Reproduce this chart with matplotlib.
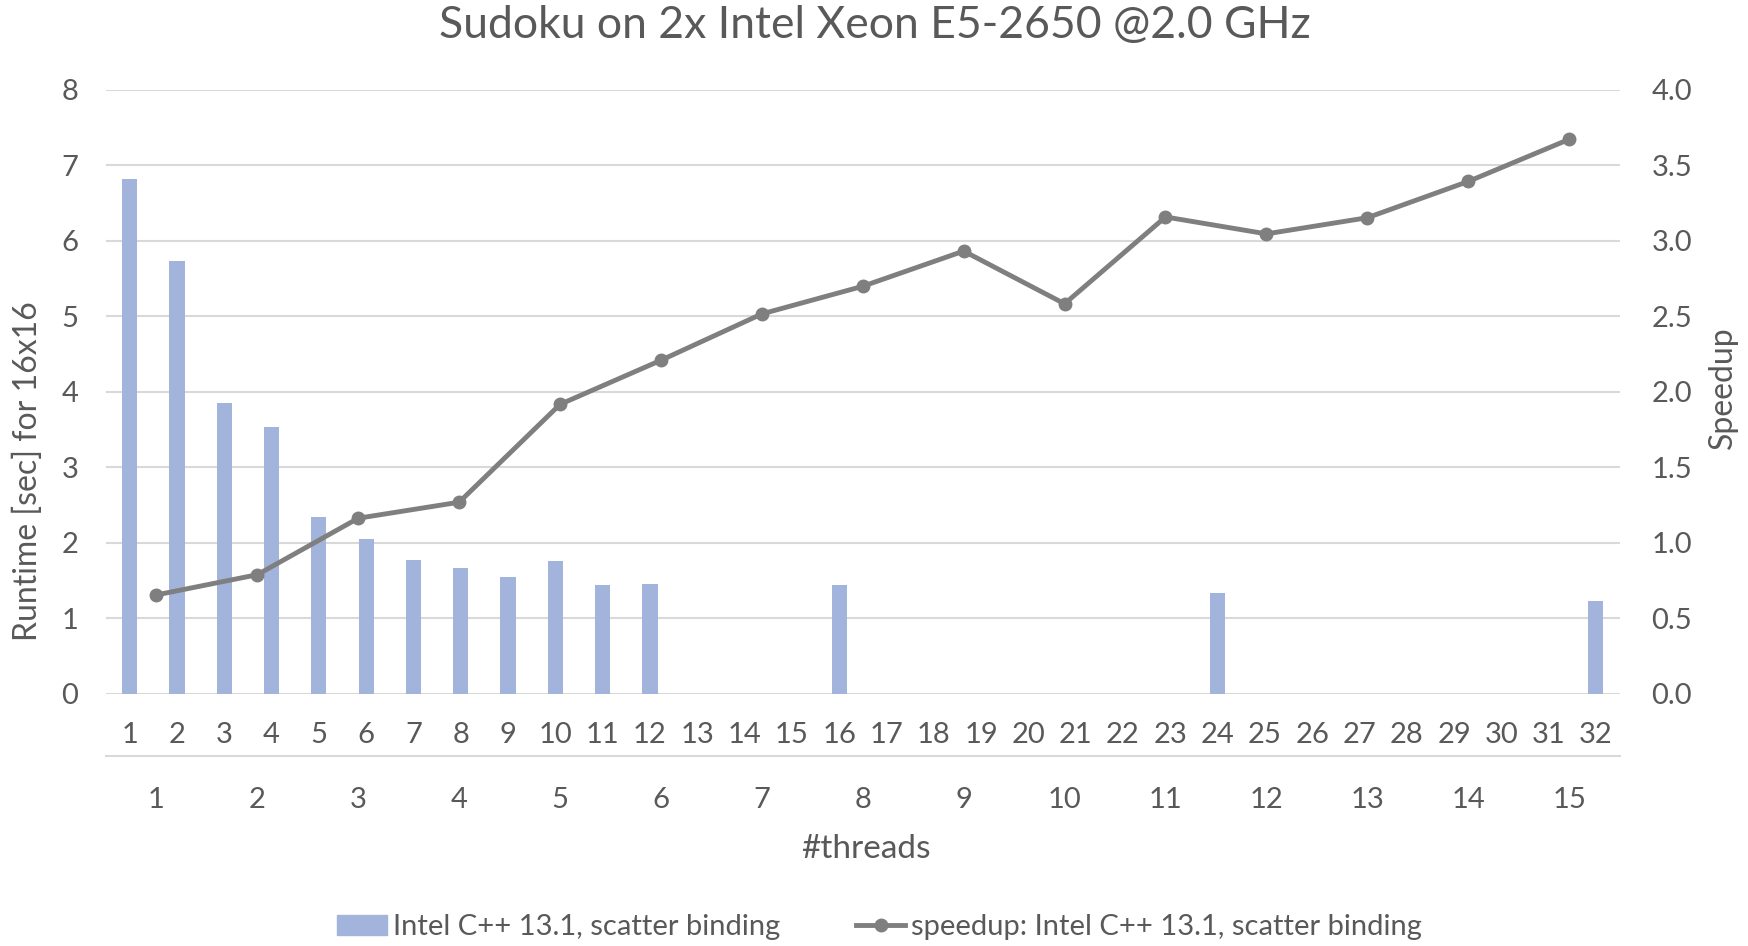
import numpy as np
from matplotlib import pyplot as plt
from matplotlib.lines import Line2D
from matplotlib.patches import Patch

plt.rcParams['font.family'] = ['Lato', 'DejaVu Sans']

# runtime per thread count (primary axes, 32 categories)
threads = list(range(1, 33))
runtime = [6.82, 5.73, 3.85, 3.53, 2.34, 2.05, 1.78, 1.675, 1.55, 1.76, 1.44, 1.46,
           0, 0, 0, 1.44, 0, 0, 0, 0, 0, 0, 0, 1.335, 0, 0, 0, 0, 0, 0, 0, 1.23]

# speedup (secondary axes, 15 categories)
steps = list(range(1, 16))
speedup = [0.656, 0.79, 1.164, 1.27, 1.918, 2.21, 2.517, 2.70, 2.933, 2.584,
           3.159, 3.047, 3.154, 3.394, 3.673]

txt = '#595959'
grid = '#D9D9D9'
bar_c = '#A2B4DB'
line_c = '#7F7F7F'

fig = plt.figure(figsize=(17.49, 9.46), dpi=100)
pos = [0.0606, 0.2664, 0.8654, 0.6385]
ax = fig.add_axes(pos)
ax.bar(threads, runtime, width=0.32, color=bar_c, zorder=2)
ax.set_xlim(0.5, 32.5)
ax.set_ylim(0, 8)
ax.set_yticks(range(0, 9))
ax.yaxis.grid(True, color=grid, linewidth=1.5, zorder=0)
ax.set_axisbelow(True)
ax.set_xticks(threads)
ax.tick_params(axis='both', length=0, labelsize=21, labelcolor=txt)
ax.tick_params(axis='x', pad=20)
ax.tick_params(axis='y', pad=20)
for s in ax.spines.values():
    s.set_visible(False)

ax2 = fig.add_axes(pos)
ax2.patch.set_visible(False)
ax2.plot(steps, speedup, color=line_c, linewidth=3.5, marker='o', markersize=9, zorder=3)
ax2.set_xlim(0.5, 15.5)
ax2.set_ylim(0, 4)
ax2.set_yticks(np.arange(0, 4.01, 0.5))
ax2.yaxis.set_major_formatter(plt.FormatStrFormatter('%.1f'))
ax2.yaxis.tick_right()
ax2.set_xticks(steps)
ax2.tick_params(axis='both', length=0, labelsize=21, labelcolor=txt)
ax2.tick_params(axis='x', pad=22)
ax2.tick_params(axis='y', pad=23)
for k, s in ax2.spines.items():
    s.set_visible(k == 'bottom')
ax2.spines['bottom'].set_position(('outward', 45))
ax2.spines['bottom'].set_color(grid)
ax2.spines['bottom'].set_linewidth(1.5)

fig.text(0.5, 0.973, 'Sudoku on 2x Intel Xeon E5-2650 @2.0 GHz', ha='center', va='center',
         fontsize=32, color=txt)
fig.text(0.016, 0.502, 'Runtime [sec] for 16x16', rotation=90, ha='center', va='center',
         fontsize=23, color=txt)
fig.text(0.985, 0.59, 'Speedup', rotation=90, ha='center', va='center',
         fontsize=23, color=txt)
fig.text(0.495, 0.1025, '#threads', ha='center', va='center', fontsize=24, color=txt)

handles = [Patch(color=bar_c, label='Intel C++ 13.1, scatter binding'),
           Line2D([], [], color=line_c, linewidth=3.5, marker='o', markersize=9,
                  label='speedup: Intel C++ 13.1, scatter binding')]
fig.legend(handles=handles, loc='center', bbox_to_anchor=(0.503, 0.02), ncol=2,
           frameon=False, fontsize=21, labelcolor=txt, columnspacing=2.6,
           handlelength=1.7, handletextpad=0.2)

fig.savefig('out.png', dpi=100)
